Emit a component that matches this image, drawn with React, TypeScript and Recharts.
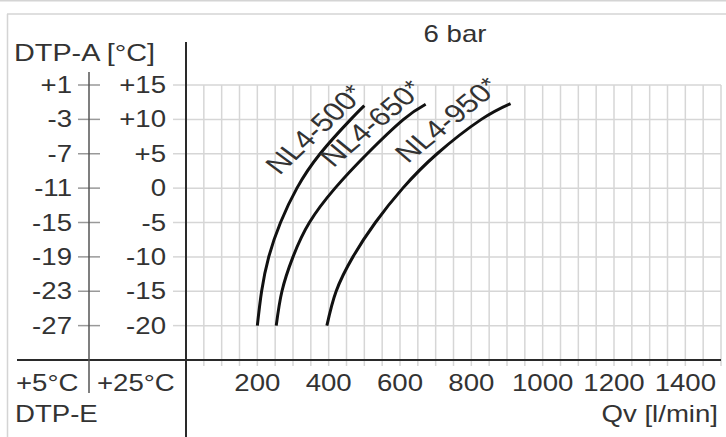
import React from 'react';
import {
  CartesianGrid,
  Line,
  LineChart,
  ReferenceDot,
  XAxis,
  YAxis,
} from 'recharts';

// flow rate axis (l/min)
const flowTicks = [
  0, 50, 100, 150, 200, 250, 300, 350, 400, 450, 500, 550, 600, 650, 700, 750,
  800, 850, 900, 950, 1000, 1050, 1100, 1150, 1200, 1250, 1300, 1350, 1400, 1450, 1500,
];
const flowLabels = [200, 400, 600, 800, 1000, 1200, 1400];

// dew point scales: outlet (+25°C inlet) and DTP-A (+5°C inlet)
const dewTicks = [15, 10, 5, 0, -5, -10, -15, -20];
const dewLabels25 = ['+15', '+10', '+5', '0', '-5', '-10', '-15', '-20'];
const dewLabels5 = ['+1', '-3', '-7', '-11', '-15', '-19', '-23', '-27'];

const nl4_500 = [
  { x: 200, y: -20 },
  { x: 212, y: -15 },
  { x: 232, y: -10 },
  { x: 265, y: -5 },
  { x: 311, y: 0 },
  { x: 376, y: 5 },
  { x: 462, y: 10 },
  { x: 500, y: 12 },
];
const nl4_650 = [
  { x: 253, y: -20 },
  { x: 269, y: -15 },
  { x: 300, y: -10 },
  { x: 346, y: -5 },
  { x: 418, y: 0 },
  { x: 508, y: 5 },
  { x: 610, y: 10 },
  { x: 672, y: 12.2 },
];
const nl4_950 = [
  { x: 395, y: -20 },
  { x: 421, y: -15 },
  { x: 468, y: -10 },
  { x: 531, y: -5 },
  { x: 608, y: 0 },
  { x: 704, y: 5 },
  { x: 828, y: 10 },
  { x: 910, y: 12.3 },
];

// where the rotated model names start (data coords) and their angle
const curveLabels = [
  { name: 'NL4-500', x: 262, y: 1.8, angle: -48.2 },
  { name: 'NL4-650', x: 413, y: 2.9, angle: -45.2 },
  { name: 'NL4-950', x: 622, y: 3.5, angle: -44.1 },
];

const SX = 1.2;
const FONT = "'Liberation Sans', Arial, sans-serif";
const INK = '#333';
const GRID = '#d6d6d6';

function SText({ x, y, anchor = 'start', size = 23, rotate = 0, children }: any) {
  return (
    <text
      transform={`translate(${x},${y}) scale(${SX},1) rotate(${rotate})`}
      textAnchor={anchor}
      fontSize={size}
      fontFamily={FONT}
      fill={INK}
    >
      {children}
    </text>
  );
}

function FlowTick({ x, payload }: any) {
  if (!flowLabels.includes(payload.value)) return null;
  return (
    <SText x={x} y={391} anchor="middle">
      {payload.value}
    </SText>
  );
}

function DewTick({ y, payload }: any) {
  const i = dewTicks.indexOf(payload.value);
  if (i < 0) return null;
  return (
    <g>
      <line x1={78} x2={100} y1={y} y2={y} stroke="#999" strokeWidth={1.5} />
      <SText x={72} y={y + 8} anchor="end">
        {dewLabels5[i]}
      </SText>
      <SText x={166} y={y + 8} anchor="end">
        {dewLabels25[i]}
      </SText>
    </g>
  );
}

function CurveLabel({ cx, cy, name, angle }: any) {
  return (
    <SText x={cx} y={cy} rotate={angle} size={26}>
      {name}
      <tspan dy={-3} fontSize={22}>*</tspan>
    </SText>
  );
}

export default function App() {
  return (
    <div style={{ position: 'absolute', left: 0, top: 0, width: 726, height: 437, background: '#fff' }}>
      <LineChart
        width={726}
        height={437}
        margin={{ top: 85, right: 5, bottom: 47, left: 156 }}
        style={{ position: 'absolute', left: 0, top: 0 }}
      >
        <CartesianGrid stroke={GRID} strokeWidth={1.5} />
        <XAxis
          type="number"
          dataKey="x"
          domain={[0, 1500]}
          ticks={flowTicks}
          interval={0}
          height={30}
          axisLine={false}
          tickSize={6}
          tickLine={{ stroke: GRID, strokeWidth: 1.5 }}
          tick={<FlowTick />}
        />
        <YAxis
          type="number"
          dataKey="y"
          domain={[-25, 15]}
          ticks={dewTicks}
          interval={0}
          width={30}
          axisLine={false}
          tickSize={13}
          tickLine={{ stroke: GRID, strokeWidth: 1.5 }}
          tick={<DewTick />}
        />
        {[nl4_500, nl4_650, nl4_950].map((d, i) => (
          <Line
            key={i}
            data={d}
            dataKey="y"
            type="natural"
            stroke="#111"
            strokeWidth={3}
            dot={false}
            activeDot={false}
            isAnimationActive={false}
          />
        ))}
        {curveLabels.map((c) => (
          <ReferenceDot
            key={c.name}
            x={c.x}
            y={c.y}
            r={0}
            ifOverflow="visible"
            shape={(p: any) => <CurveLabel cx={p.cx} cy={p.cy} name={c.name} angle={c.angle} />}
          />
        ))}
      </LineChart>
      <svg width={726} height={437} style={{ position: 'absolute', left: 0, top: 0, pointerEvents: 'none' }}>
        <line x1={0} x2={726} y1={0.75} y2={0.75} stroke="#d4d4d4" strokeWidth={1.5} />
        <line x1={7} x2={726} y1={14} y2={14} stroke="#d4d4d4" strokeWidth={1.5} />
        <line x1={7.5} x2={7.5} y1={14} y2={437} stroke="#d4d4d4" strokeWidth={1.5} />
        <line x1={186} x2={186} y1={42} y2={437} stroke="#2a2a2a" strokeWidth={2} />
        <line x1={17} x2={721} y1={360} y2={360} stroke="#2a2a2a" strokeWidth={2} />
        <line x1={89} x2={89} y1={72} y2={393} stroke="#555" strokeWidth={1.5} />
        <SText x={14} y={61} size={24}>DTP-A [°C]</SText>
        <SText x={455} y={42} anchor="middle">6 bar</SText>
        <SText x={16} y={391}>+5°C</SText>
        <SText x={97} y={391}>+25°C</SText>
        <SText x={15} y={422}>DTP-E</SText>
        <SText x={718} y={422} anchor="end">Qv [l/min]</SText>
      </svg>
    </div>
  );
}
